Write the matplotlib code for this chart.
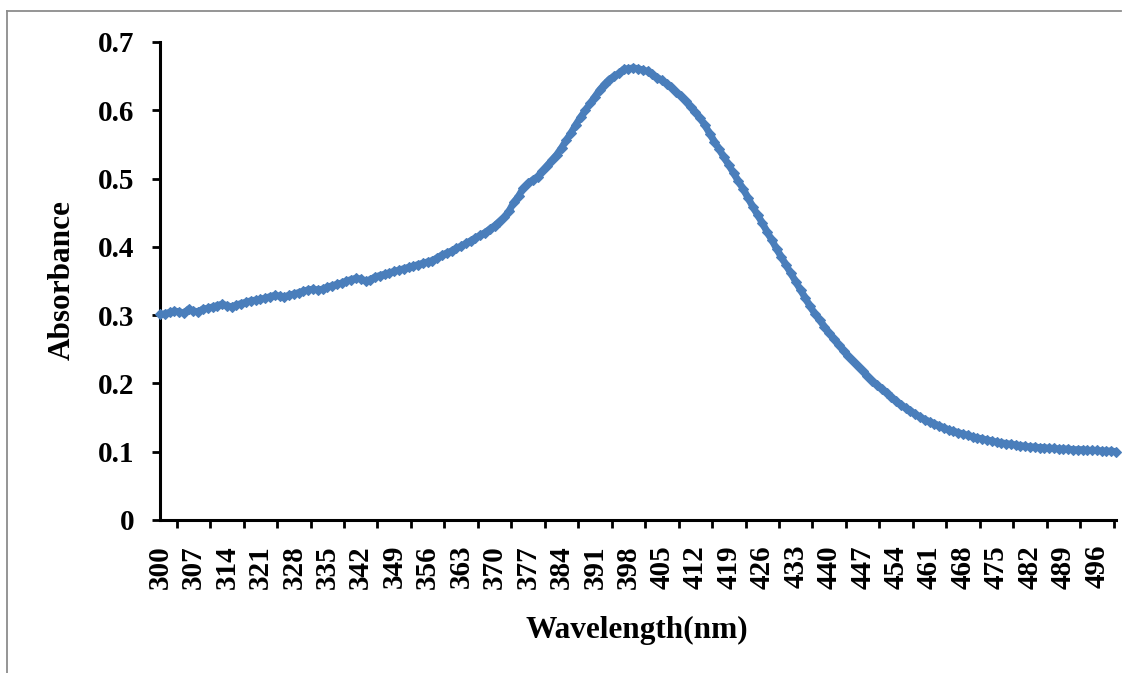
import numpy as np
import matplotlib.pyplot as plt
from matplotlib.lines import Line2D

# wavelength (nm), one reading per nm
wavelength = list(range(300, 501))

# absorbance values
absorbance = [
    0.301, 0.302, 0.304, 0.306, 0.305, 0.303, 0.309, 0.306, 0.305, 0.309,
    0.310, 0.312, 0.314, 0.316, 0.314, 0.312, 0.315, 0.317, 0.319, 0.321,
    0.322, 0.323, 0.325, 0.327, 0.329, 0.328, 0.327, 0.329, 0.331, 0.333,
    0.335, 0.337, 0.338, 0.337, 0.338, 0.341, 0.343, 0.345, 0.347, 0.350,
    0.352, 0.354, 0.353, 0.350, 0.352, 0.356, 0.358, 0.360, 0.362, 0.364,
    0.366, 0.368, 0.370, 0.372, 0.374, 0.376, 0.378, 0.380, 0.384, 0.388,
    0.391, 0.394, 0.398, 0.401, 0.405, 0.409, 0.413, 0.417, 0.421, 0.426,
    0.431, 0.437, 0.443, 0.452, 0.465, 0.474, 0.486, 0.493, 0.498, 0.503,
    0.511, 0.519, 0.527, 0.535, 0.545, 0.556, 0.567, 0.579, 0.590, 0.600,
    0.610, 0.620, 0.630, 0.638, 0.645, 0.650, 0.654, 0.660, 0.661, 0.662,
    0.661, 0.659, 0.657, 0.653, 0.648, 0.644, 0.639, 0.634, 0.627, 0.621,
    0.613, 0.605, 0.597, 0.589, 0.578, 0.566, 0.554, 0.543, 0.531, 0.520,
    0.508, 0.496, 0.485, 0.472, 0.459, 0.447, 0.435, 0.422, 0.410, 0.397,
    0.385, 0.373, 0.361, 0.349, 0.337, 0.325, 0.313, 0.302, 0.293, 0.283,
    0.274, 0.265, 0.256, 0.248, 0.240, 0.233, 0.225, 0.218, 0.211, 0.204,
    0.198, 0.192, 0.186, 0.180, 0.174, 0.169, 0.164, 0.160, 0.155, 0.151,
    0.147, 0.144, 0.141, 0.138, 0.135, 0.132, 0.130, 0.128, 0.126, 0.124,
    0.122, 0.120, 0.119, 0.117, 0.116, 0.114, 0.113, 0.112, 0.111, 0.110,
    0.109, 0.108, 0.107, 0.107, 0.106, 0.106, 0.105, 0.105, 0.104, 0.104,
    0.104, 0.103, 0.103, 0.103, 0.102, 0.102, 0.102, 0.101, 0.101, 0.101,
    0.100,
]

# every 7th category is labelled
x_labels = wavelength[::7]
y_ticks = [0, 0.1, 0.2, 0.3, 0.4, 0.5, 0.6, 0.7]

plt.rcParams['font.family'] = ['Liberation Serif', 'DejaVu Serif']
plt.rcParams['font.weight'] = 'bold'

fig = plt.figure(figsize=(11.28, 6.73), dpi=100)
ax = fig.add_axes([160 / 1128, 1 - 520 / 673, 956 / 1128, 478 / 673])

ax.plot(wavelength, absorbance, color='#4A7EBB', lw=5, marker='D',
        markersize=5, markeredgewidth=0.8, markeredgecolor='#4A7EBB',
        solid_joinstyle='round', solid_capstyle='round', clip_on=False,
        zorder=3)

ax.set_xlim(300, 500)
ax.set_ylim(0, 0.7)
ax.set_yticks(y_ticks)
ax.set_yticklabels(['0'] + ['%.1f' % v for v in y_ticks[1:]])
ax.set_xticks(x_labels)
ax.set_xticklabels([str(v) for v in x_labels], rotation=90)
# tick marks sit between the labelled categories
ax.set_xticks([x + 3.5 for x in x_labels], minor=True)

ax.tick_params(axis='x', which='major', length=0, pad=18, labelsize=21)
ax.tick_params(axis='x', which='minor', length=5.5, width=2, direction='out')
ax.tick_params(axis='y', length=5.5, width=2, pad=13, labelsize=21)

for side in ['top', 'right']:
    ax.spines[side].set_visible(False)
for side in ['left', 'bottom']:
    ax.spines[side].set_linewidth(2.2)
    ax.spines[side].set_color('black')

fig.text(62 / 1128, 1 - 280 / 673, 'Absorbance', rotation=90,
         ha='center', va='center', fontsize=22.5, fontweight='bold')
fig.text(637 / 1128, 1 - 630 / 673, 'Wavelength(nm)',
         ha='center', va='center', fontsize=22.5, fontweight='bold')

# grey chart-area frame (top and left edges visible)
fig.add_artist(Line2D([7 / 1128, 7 / 1128], [0, 1 - 11 / 673],
                      color='#8c8c8c', lw=1.3, transform=fig.transFigure))
fig.add_artist(Line2D([7 / 1128, 1121 / 1128], [1 - 11 / 673, 1 - 11 / 673],
                      color='#8c8c8c', lw=1.3, transform=fig.transFigure))

fig.savefig('out.png', dpi=100)
